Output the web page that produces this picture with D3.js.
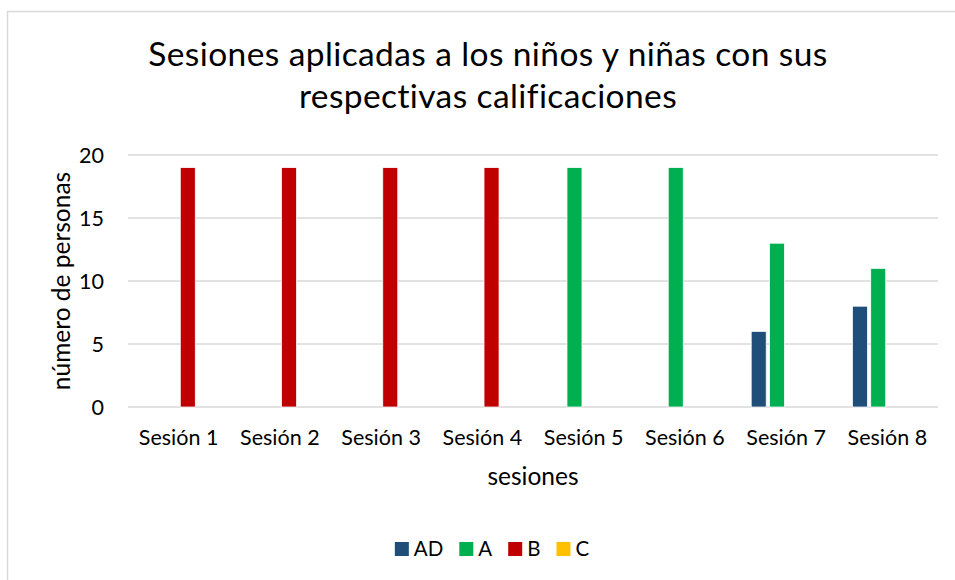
<!DOCTYPE html>
<html>
<head>
<meta charset="utf-8">
<script src="https://cdn.jsdelivr.net/npm/d3@7"></script>
<style>
  body { margin: 0; background: #fff; }
  text { font-family: Lato, "Open Sans", sans-serif; fill: #000; }
</style>
</head>
<body>
<div id="chart"></div>
<script>
// Data
const sessions = ["Sesión 1", "Sesión 2", "Sesión 3", "Sesión 4", "Sesión 5", "Sesión 6", "Sesión 7", "Sesión 8"];
const seriesNames = ["AD", "A", "B", "C"];
const valuesAD = [0, 0, 0, 0, 0, 0, 6, 8];
const valuesA = [0, 0, 0, 0, 19, 19, 13, 11];
const valuesB = [19, 19, 19, 19, 0, 0, 0, 0];
const valuesC = [0, 0, 0, 0, 0, 0, 0, 0];
const yTicks = [0, 5, 10, 15, 20];
const colors = ["#1F4E79", "#00B050", "#C00000", "#FFC000"];

const seriesValues = [valuesAD, valuesA, valuesB, valuesC];

const w = 955;
const h = 580;
const svg = d3
  .select("#chart")
  .append("svg")
  .attr("width", w)
  .attr("height", h);

// chart border
svg
  .append("rect")
  .attr("x", 7.5)
  .attr("y", 11.5)
  .attr("width", 970)
  .attr("height", 600)
  .attr("fill", "#fff")
  .attr("stroke", "#d9d9d9")
  .attr("stroke-width", 1.5);

// Title
const title = svg
  .append("text")
  .attr("text-anchor", "middle")
  .style("font-size", "33.5px")
  .style("letter-spacing", "0.4px");
title.append("tspan").attr("x", 488).attr("y", 66).text("Sesiones aplicadas a los niños y niñas con sus");
title.append("tspan").attr("x", 488).attr("y", 108).text("respectivas calificaciones");

// Scales
const x0 = d3.scaleBand().domain(sessions).range([128, 938]);
const x1 = d3
  .scaleBand()
  .domain(seriesNames)
  .range([x0.bandwidth() * 0.155, x0.bandwidth() * 0.845])
  .paddingInner(0.18);
const y = d3.scaleLinear().domain([0, 20]).range([407, 155]);

// Gridlines
svg
  .append("g")
  .selectAll("line")
  .data(yTicks)
  .join("line")
  .attr("x1", 128)
  .attr("x2", 938)
  .attr("y1", (d) => y(d))
  .attr("y2", (d) => y(d))
  .attr("stroke", "#d9d9d9")
  .attr("stroke-width", 1.5);

// Y axis labels
svg
  .append("g")
  .selectAll("text")
  .data(yTicks)
  .join("text")
  .attr("x", 104)
  .attr("y", (d) => y(d))
  .attr("dy", "0.36em")
  .attr("text-anchor", "end")
  .style("font-size", "21.5px")
  .text((d) => d);

// X axis labels
svg
  .append("g")
  .selectAll("text")
  .data(sessions)
  .join("text")
  .attr("x", (d) => x0(d) + x0.bandwidth() / 2)
  .attr("y", 445)
  .attr("text-anchor", "middle")
  .style("font-size", "21.5px")
  .text((d) => d);

// Bars
const rows = [];
sessions.forEach((s, i) => {
  seriesNames.forEach((k, j) => {
    rows.push({ session: s, key: k, value: seriesValues[j][i], color: colors[j] });
  });
});

svg
  .append("g")
  .selectAll("rect")
  .data(rows.filter((d) => d.value > 0))
  .join("rect")
  .attr("x", (d) => x0(d.session) + x1(d.key))
  .attr("y", (d) => y(d.value))
  .attr("width", x1.bandwidth())
  .attr("height", (d) => y(0) - y(d.value))
  .attr("fill", (d) => d.color)
  .attr("stroke", "#fff")
  .attr("stroke-width", 0.75);

// Axis titles
svg
  .append("text")
  .attr("x", 533)
  .attr("y", 485)
  .attr("text-anchor", "middle")
  .style("font-size", "24.5px")
  .text("sesiones");

svg
  .append("text")
  .attr("transform", "translate(70,281) rotate(-90)")
  .attr("text-anchor", "middle")
  .style("font-size", "24.5px")
  .text("número de personas");

// Legend
const legend = svg.append("g");
let lx = 0;
seriesNames.forEach((name, i) => {
  const item = legend.append("g").attr("transform", `translate(${lx},0)`);
  item
    .append("rect")
    .attr("x", 0)
    .attr("y", 542)
    .attr("width", 14)
    .attr("height", 14)
    .attr("fill", colors[i]);
  const t = item
    .append("text")
    .attr("x", 19)
    .attr("y", 556)
    .style("font-size", "20.5px")
    .text(name);
  lx += 19 + t.node().getComputedTextLength() + 16;
});
const legendWidth = lx - 16;
legend.attr("transform", `translate(${492 - legendWidth / 2},0)`);
</script>
</body>
</html>
